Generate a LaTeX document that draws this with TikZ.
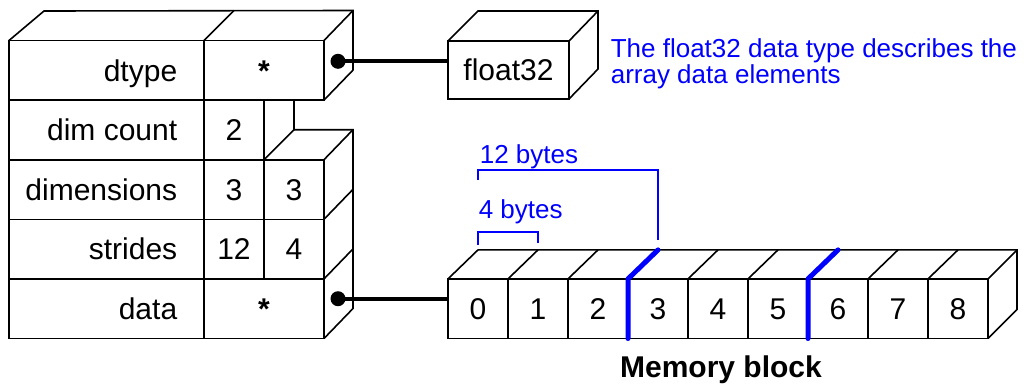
\documentclass[tikz,border=0pt]{standalone}
\usepackage{fontspec}
\setmainfont{Liberation Sans}
\usepackage{tikz}
\usetikzlibrary{positioning}

\begin{document}
\begin{tikzpicture}[x=1pt, y=-1pt, line width=1.6pt, line join=miter,
  cell/.style={draw, outer sep=0pt, inner sep=0pt, minimum height=59.6pt,
    text height=21.5pt, text depth=0pt, font=\fontsize{30}{36}\selectfont},
  lbl/.style={anchor=east, inner sep=0pt, text height=21.5pt, text depth=0pt,
    font=\fontsize{30}{36}\selectfont},
  link/.style={line width=4pt},
  split/.style={blue, line width=5pt, line cap=round, line join=round},
  bracket/.style={blue, line width=2pt},
  bytes/.style={blue, anchor=base west, inner sep=0pt, font=\fontsize{26}{30}\selectfont}]
%\draw[step=50pt,gray,very thin] (0,0) grid (1030,383);
\useasboundingbox (0,0) rectangle (1030,383);

% the array struct
\node[cell, minimum width=195pt] (dtypef) at (106.5,70.3) {};
\node[cell, minimum width=120pt, right=0pt of dtypef] (dtypev) {\textbf{*}};
\node[cell, minimum width=195pt, below=0pt of dtypef] (countf) {};
\node[cell, minimum width=60pt, right=0pt of countf] (countv) {2};
\node[cell, minimum width=195pt, below=0pt of countf] (dimf) {};
\node[cell, minimum width=60pt, right=0pt of dimf] (dima) {3};
\node[cell, minimum width=60pt, right=0pt of dima] (dimb) {3};
\node[cell, minimum width=195pt, below=0pt of dimf] (stridef) {};
\node[cell, minimum width=60pt, right=0pt of stridef] (stridea) {12};
\node[cell, minimum width=60pt, right=0pt of stridea] (strideb) {4};
\node[cell, minimum width=195pt, below=0pt of stridef] (dataf) {};
\node[cell, minimum width=120pt, right=0pt of dataf] (datav) {\textbf{*}};

\node[lbl] at ([xshift=-26pt]dtypef.east) {dtype};
\node[lbl] at ([xshift=-26pt]countf.east) {dim count};
\node[lbl] at ([xshift=-26pt]dimf.east) {dimensions};
\node[lbl] at ([xshift=-26pt]stridef.east) {strides};
\node[lbl] at ([xshift=-26pt]dataf.east) {data};

\draw (dtypef.north west) -- (44,11) -- ([shift={(29,-30)}]dtypev.north east)
  -- ([shift={(29,-30)}]dtypev.south east) -- (dtypev.south east);
\draw (dtypev.north west) -- ++(30,-30);
\draw (dtypev.north east) -- ++(29,-30);

\draw ([xshift=30pt]countv.north east) -- ([shift={(30,-30)}]dimb.north west) -- (dimb.north west);
\draw ([shift={(30,-30)}]dimb.north west) -- ([shift={(29,-30)}]dimb.north east)
  -- ([shift={(29,-30)}]datav.south east) -- (datav.south east);
\draw (dimb.north east) -- ++(29,-30);
\draw (dimb.south east) -- ++(29,-30);
\draw (strideb.south east) -- ++(29,-30);

% element type
\node[cell, minimum width=121pt, minimum height=58pt] (f32) at (508.5,70) {float32};
\draw (f32.north west) -- ++(30,-30) -- ([shift={(29,-30)}]f32.north east)
  -- ([shift={(29,-30)}]f32.south east) -- (f32.south east);
\draw (f32.north east) -- ++(29,-30);

\node[blue, anchor=north west, align=left, inner sep=0pt,
  font=\fontsize{26}{26.6}\selectfont] (note) at (610,37.7)
  {The float32 data type describes the\\array data elements};

% memory block
\foreach \i in {0,...,8}
  \node[cell, minimum width=60pt] (m\i) at (478+60*\i,308.7) {\i};
\draw (m0.north west) -- ++(30,-29) -- ([shift={(29,-29)}]m8.north east)
  -- ([shift={(29,-29)}]m8.south east) -- (m8.south east);
\foreach \i in {1,...,8}
  \draw (m\i.north west) -- ++(30,-29);
\draw (m8.north east) -- ++(29,-29);

\node[lbl, anchor=north, font=\bfseries\fontsize{30}{36}\selectfont] (memlbl)
  at ([shift={(3,17)}]m4.south) {Memory block};

% pointers
\coordinate (dtypeptr) at ([shift={(14,-9)}]dtypev.east);
\coordinate (dataptr) at ([shift={(14,-10)}]datav.east);
\draw[link] (dtypeptr) -- (dtypeptr -| f32.west);
\draw[link] (dataptr) -- (dataptr -| m0.west);
\fill (dtypeptr) circle (7.5pt);
\fill (dataptr) circle (7.5pt);

% strides
\draw[split] (m3.south west) -- (m3.north west) -- ++(30,-29);
\draw[split] (m6.south west) -- (m6.north west) -- ++(30,-29);

\draw[bracket] ([shift={(30,-34)}]m0.north west) -- ++(0,-13) -| ([shift={(30,-36)}]m1.north west);
\draw[bracket] ([shift={(30,-99)}]m0.north west) -- ++(0,-10) -| ([shift={(30,-39)}]m3.north west);
\node[bytes] (four) at (478,218) {4 bytes};
\node[bytes] (twelve) at (479,163) {12 bytes};

\end{tikzpicture}
\end{document}
